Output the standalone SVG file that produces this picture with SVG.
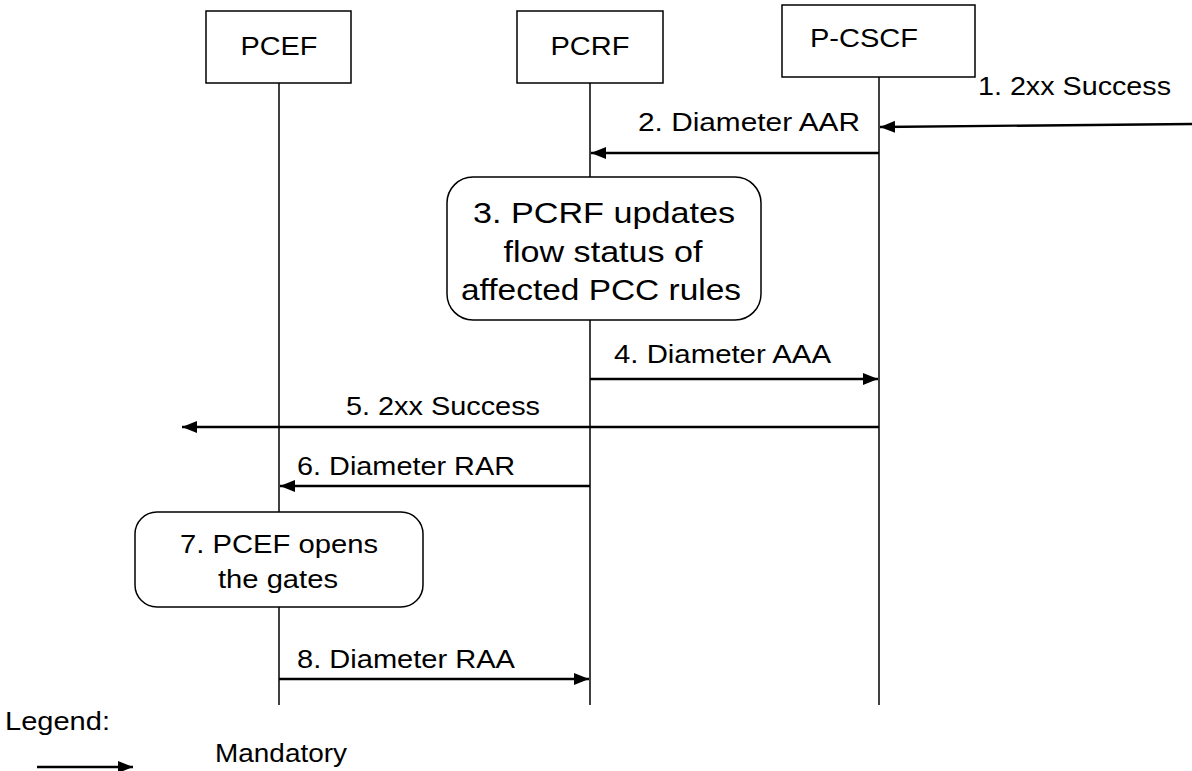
<svg xmlns="http://www.w3.org/2000/svg" width="1192" height="771" viewBox="0 0 1192 771">
<defs>
<marker id="ah" markerWidth="15" markerHeight="12" refX="15" refY="6" orient="auto" markerUnits="userSpaceOnUse">
<path d="M0,0 L15,6 L0,12 Z" fill="#000"/>
</marker>
<style>
text{font-family:"Liberation Sans",Arial,sans-serif;font-size:26px;fill:#000}
.big{font-size:30px}
.box{fill:#fff;stroke:#000;stroke-width:1.5}
.life{stroke:#000;stroke-width:1.5}
.msg{stroke:#000;stroke-width:2.4;fill:none;marker-end:url(#ah)}
.c{text-anchor:middle}
</style>
</defs>
<rect width="1192" height="771" fill="#fff"/>
<g id="lifelines">
<line class="life" x1="279" y1="83" x2="279" y2="705"/>
<line class="life" x1="590" y1="83" x2="590" y2="705"/>
<line class="life" x1="879" y1="77" x2="879" y2="705"/>
</g>
<g id="pcef"><rect class="box" x="206" y="11" width="145" height="72"/><text class="c" x="279" y="55" textLength="77" lengthAdjust="spacingAndGlyphs">PCEF</text></g>
<g id="pcrf"><rect class="box" x="517" y="11" width="146" height="72"/><text class="c" x="590" y="55" textLength="79" lengthAdjust="spacingAndGlyphs">PCRF</text></g>
<g id="pcscf"><rect class="box" x="782" y="5" width="193" height="72"/><text class="c" x="864" y="47" textLength="108" lengthAdjust="spacingAndGlyphs">P-CSCF</text></g>
<g id="step3"><rect class="box" x="447" y="177" width="314" height="143" rx="26"/>
<text class="c big" x="604" y="223" textLength="262" lengthAdjust="spacingAndGlyphs">3. PCRF updates</text>
<text class="c big" x="603" y="262" textLength="199" lengthAdjust="spacingAndGlyphs">flow status of</text>
<text class="c big" x="601" y="300" textLength="280" lengthAdjust="spacingAndGlyphs">affected PCC rules</text></g>
<g id="step7"><rect class="box" x="135" y="512" width="288" height="95" rx="22"/>
<text class="c" x="279" y="553" textLength="198" lengthAdjust="spacingAndGlyphs">7. PCEF opens</text>
<text class="c" x="278" y="588" textLength="120" lengthAdjust="spacingAndGlyphs">the gates</text></g>
<g id="connectors">
<line class="msg" x1="1192" y1="124" x2="880" y2="127"/>
<line class="msg" x1="879" y1="153" x2="591" y2="153"/>
<line class="msg" x1="590" y1="379" x2="878" y2="379"/>
<line class="msg" x1="879" y1="427" x2="182" y2="427"/>
<line class="msg" x1="590" y1="486" x2="280" y2="486"/>
<line class="msg" x1="279" y1="679" x2="589" y2="679"/>
<line class="msg" x1="37" y1="767" x2="133" y2="767"/>
</g>
<g id="labels">
<text x="978" y="95" textLength="193" lengthAdjust="spacingAndGlyphs">1. 2xx Success</text>
<text x="638" y="131" textLength="222" lengthAdjust="spacingAndGlyphs">2. Diameter AAR</text>
<text x="614" y="363" textLength="217" lengthAdjust="spacingAndGlyphs">4. Diameter AAA</text>
<text x="346" y="415" textLength="194" lengthAdjust="spacingAndGlyphs">5. 2xx Success</text>
<text x="297" y="475" textLength="218" lengthAdjust="spacingAndGlyphs">6. Diameter RAR</text>
<text x="297" y="668" textLength="218" lengthAdjust="spacingAndGlyphs">8. Diameter RAA</text>
<text x="5" y="730" textLength="105" lengthAdjust="spacingAndGlyphs">Legend:</text>
<text x="215" y="762" textLength="132" lengthAdjust="spacingAndGlyphs">Mandatory</text>
</g>
</svg>
